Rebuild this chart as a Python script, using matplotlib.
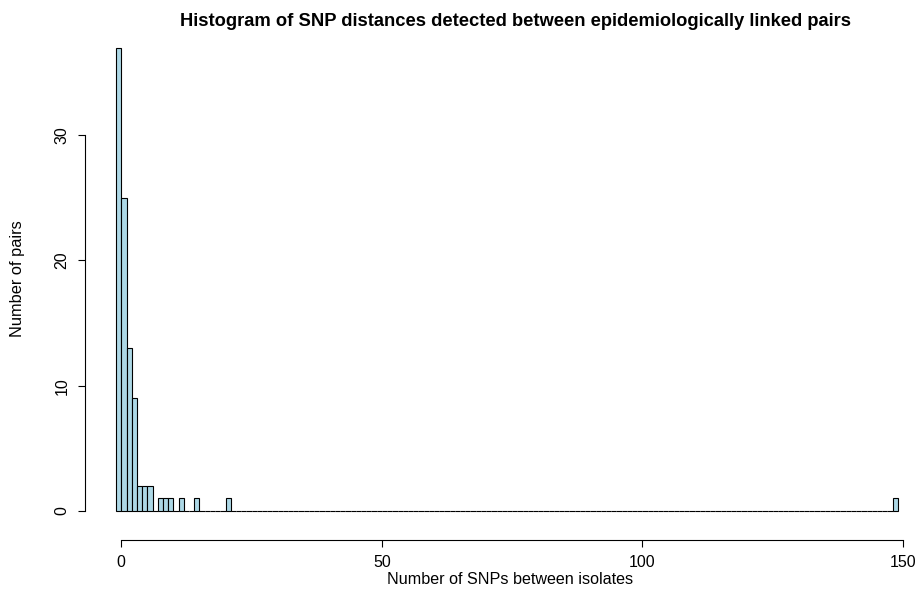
import numpy as np
import matplotlib
matplotlib.use("Agg")
import matplotlib.pyplot as plt

# SNP distance between linked pairs and how many pairs had that distance
snp_values = [0, 1, 2, 3, 4, 5, 6, 8, 9, 10, 12, 15, 21, 149]
pair_counts = [37, 25, 13, 9, 2, 2, 2, 1, 1, 1, 1, 1, 1, 1]

breaks = np.arange(-1, 150)  # R-style right-closed bins of width 1
counts = np.zeros(len(breaks) - 1)
for v, c in zip(snp_values, pair_counts):
    counts[v] = c  # bin (v-1, v]

plt.rcParams['font.family'] = ['Liberation Sans', 'DejaVu Sans']

W, H = 919, 594
fig = plt.figure(figsize=(W / 100, H / 100), dpi=100)

# plot region in pixels
left_px, right_px = 85, 919
top_px, bottom_px = 29, 529.5
ax = fig.add_axes([left_px / W, 1 - bottom_px / H,
                   (right_px - left_px) / W, (bottom_px - top_px) / H])

ax.bar(breaks[:-1], counts, width=1, align='edge',
       color='#ADD8E6', edgecolor='black', linewidth=0.8)

x0 = 121.3
xscale = (903 - 121.3) / 150
ax.set_xlim((left_px - x0) / xscale, (right_px - x0) / xscale)
ax.set_ylim(-1.48, 38.48)

for s in ['top', 'right']:
    ax.spines[s].set_visible(False)
ax.spines['bottom'].set_position(('outward', 7.5))
ax.spines['bottom'].set_bounds(0, 150)
ax.spines['left'].set_bounds(0, 30)
for s in ['bottom', 'left']:
    ax.spines[s].set_linewidth(0.8)

ax.set_xticks([0, 50, 100, 150])
ax.set_yticks([0, 10, 20, 30])
ax.tick_params(direction='out', length=5, width=0.8, labelsize=11.5, pad=6)
plt.setp(ax.get_yticklabels(), rotation=90, va='center')

# axis labels and title, placed like the R output
fig.text(510 / W, 1 - 579 / H, "Number of SNPs between isolates",
         ha='center', va='center', fontsize=11.6)
fig.text(18 / W, 1 - 279 / H, "Number of pairs", rotation=90,
         ha='center', va='center', fontsize=11.8)
fig.text(515 / W, 1 - 22 / H,
         "Histogram of SNP distances detected between epidemiologically linked pairs",
         ha='center', va='center', fontsize=13.2, fontweight='bold')

fig.savefig("out.png", dpi=100)
